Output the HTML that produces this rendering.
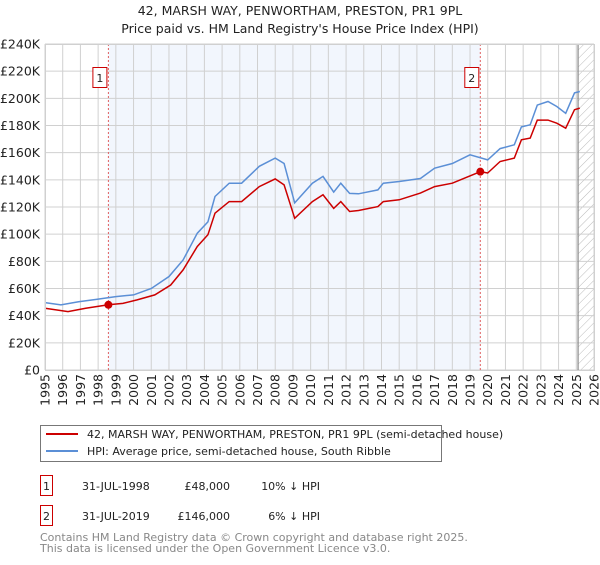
<!DOCTYPE html>
<html><head><meta charset="utf-8"><style>
body{margin:0;background:#fff;font-family:"Liberation Sans","DejaVu Sans",sans-serif;}
svg text{font-family:"DejaVu Sans","Liberation Sans",sans-serif;}
</style></head><body>
<svg id="c" width="600" height="560" xmlns="http://www.w3.org/2000/svg">
<defs><pattern id="hatch" width="6" height="6" patternUnits="userSpaceOnUse" patternTransform="rotate(45)"><line x1="0" y1="0" x2="0" y2="6" stroke="#bbb" stroke-width="1"/></pattern></defs>
<text x="300" y="15" text-anchor="middle" font-size="12.5" fill="#222">42, MARSH WAY, PENWORTHAM, PRESTON, PR1 9PL</text>
<text x="300" y="33" text-anchor="middle" font-size="12.5" fill="#222">Price paid vs. HM Land Registry's House Price Index (HPI)</text>
<g id="plot"></g>
<g>
<rect x="40.5" y="425.5" width="401" height="36" fill="#fff" stroke="#777"/>
<line x1="46" y1="434" x2="78" y2="434" stroke="#cc0000" stroke-width="2"/>
<text x="87" y="438" font-size="11" fill="#222">42, MARSH WAY, PENWORTHAM, PRESTON, PR1 9PL (semi-detached house)</text>
<line x1="46" y1="451" x2="78" y2="451" stroke="#5b8fd6" stroke-width="2"/>
<text x="87" y="455" font-size="11" fill="#222">HPI: Average price, semi-detached house, South Ribble</text>
</g>
<g font-size="11" fill="#222">
<rect x="40.5" y="475.5" width="12" height="20" fill="#fff" stroke="#cc0000"/><text x="46.5" y="490" text-anchor="middle">1</text>
<text x="82" y="490">31-JUL-1998</text><text x="230" y="490" text-anchor="end">£48,000</text><text x="320" y="490" text-anchor="end">10% ↓ HPI</text>
<rect x="40.5" y="505.5" width="12" height="20" fill="#fff" stroke="#cc0000"/><text x="46.5" y="520" text-anchor="middle">2</text>
<text x="82" y="520">31-JUL-2019</text><text x="230" y="520" text-anchor="end">£146,000</text><text x="320" y="520" text-anchor="end">6% ↓ HPI</text>
</g>
<text x="40" y="541" font-size="11" fill="#888">Contains HM Land Registry data © Crown copyright and database right 2025.</text>
<text x="40" y="552" font-size="11" fill="#888">This data is licensed under the Open Government Licence v3.0.</text>
</svg>
<script>
const hpiYears=[1995,1995.9,1996.9,1997.9,1999,2000,2001,2002,2002.8,2003.6,2004.2,2004.6,2005.4,2006.1,2007.1,2008,2008.5,2009.1,2010.1,2010.7,2011.3,2011.7,2012.2,2012.7,2013.8,2014.1,2015,2016.2,2017,2018,2019,2020,2020.7,2021.5,2021.9,2022.4,2022.8,2023.4,2023.9,2024.4,2024.9,2025.2];
const hpiValues=[49.6,47.9,50.3,52,54,55.3,60,68.8,81,100.7,109,127.7,137.5,137.5,150,156,152,123,137.5,142.5,131,137.5,130,129.7,132.6,137.5,138.8,141,148.6,152,158.4,154.7,163,165.8,179,180.5,195,197.7,194,189,204,205];
const priceYears=[1995,1996.3,1997.3,1998.58,1999.4,2000.2,2001.2,2002.1,2002.8,2003.6,2004.2,2004.6,2005.4,2006.1,2007.1,2008,2008.5,2009.1,2010.1,2010.7,2011.3,2011.7,2012.2,2012.7,2013.8,2014.1,2015,2016.2,2017,2018,2019.58,2020,2020.7,2021.5,2021.9,2022.4,2022.8,2023.4,2023.9,2024.4,2024.9,2025.2];
const priceValues=[45.4,43,45.4,48,49,51.6,55.3,62.6,73.7,90.9,99.5,115.4,124,124,135,140.7,136.3,111.7,124,129,119,124,116.7,117.4,120.3,124,125.3,130.2,135,137.5,146,145,153.5,156,169.5,170.7,184,184,181.7,178,191.6,192.8];
const saleYears=[1998.58,2019.58];
const saleValues=[48,146];
const saleLabels=["1","2"];
const yTicks=[0,20,40,60,80,100,120,140,160,180,200,220,240];
const xTicks=[];for(let y=1995;y<=2026;y++)xTicks.push(y);

const X0=45,X1=594,Y0=370,Y1=44;
const xs=y=>X0+(y-1995)/31*(X1-X0);
const ys=v=>Y0-v/240*(Y0-Y1);
const NS="http://www.w3.org/2000/svg";
const g=document.getElementById('plot');
function mk(t,a){const e=document.createElementNS(NS,t);for(const k in a)e.setAttribute(k,a[k]);g.appendChild(e);return e;}
let e;
e=mk('rect',{x:xs(saleYears[0]),y:Y1,width:xs(saleYears[1])-xs(saleYears[0]),height:Y0-Y1,fill:'#f2f6fd'});


e=mk('rect',{x:xs(2025.1),y:Y1,width:X1-xs(2025.1),height:Y0-Y1,fill:'url(#hatch)'});


for(const t of xTicks){
 e=mk('line',{x1:xs(t),x2:xs(t),y1:Y1,y2:Y0,stroke:'#d0d0d0'});
 
 
 e=mk('text',{x:0,y:0,'font-size':12.5,fill:'#222','text-anchor':'end',transform:`translate(${xs(t)+4.5},${Y0+4}) rotate(-90)`});
 e.textContent=t;
 
 
}
for(const v of yTicks){
 e=mk('line',{x1:X0,x2:X1,y1:ys(v),y2:ys(v),stroke:'#d0d0d0'});
 
 
 e=mk('text',{x:40,y:ys(v)+4.5,'font-size':12.5,fill:'#222','text-anchor':'end'});
 e.textContent=v===0?'£0':'£'+v+'K';
 
 
}
e=mk('line',{x1:xs(2025.1),x2:xs(2025.1),y1:Y1,y2:Y0,stroke:'#888','stroke-width':1.2});


saleYears.forEach((sy,i)=>{
 e=mk('line',{x1:xs(sy),x2:xs(sy),y1:Y1,y2:Y0,stroke:'#e06060','stroke-dasharray':'2,2'});
 
 
 e=mk('rect',{x:xs(sy)-15.5,y:67.5,width:14,height:20,fill:'#fff',stroke:'#cc0000'});
 
 
 e=mk('text',{x:xs(sy)-8.5,y:82,'font-size':11,fill:'#222','text-anchor':'middle'});
 e.textContent=saleLabels[i];
 
 
});
const pth=(xa,va)=>xa.map((x,i)=>(i?'L':'M')+xs(x).toFixed(1)+','+ys(va[i]).toFixed(1)).join('');
e=mk('path',{d:pth(hpiYears,hpiValues),fill:'none',stroke:'#5b8fd6','stroke-width':1.5});


e=mk('path',{d:pth(priceYears,priceValues),fill:'none',stroke:'#cc0000','stroke-width':1.5});


saleYears.forEach((sy,i)=>{
 e=mk('circle',{cx:xs(sy),cy:ys(saleValues[i]),r:4,fill:'#cc0000'});
 
 
});
e=mk('rect',{x:X0+0.5,y:Y1+0.5,width:X1-X0,height:Y0-Y1,fill:'none',stroke:'#d0d0d0'});


</script>
</body></html>
